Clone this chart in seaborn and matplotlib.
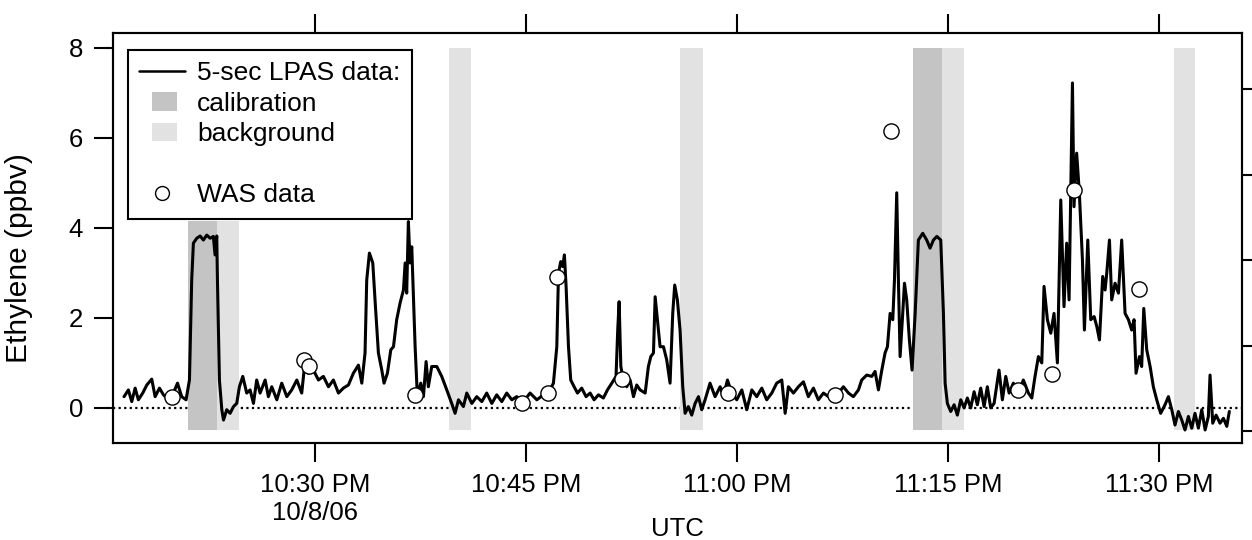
import pandas as pd
import matplotlib
matplotlib.use("Agg")
import matplotlib.pyplot as plt
import seaborn as sns
from matplotlib.lines import Line2D
from matplotlib.patches import Patch, Rectangle
from matplotlib.legend_handler import HandlerPatch

# ---------------------------------------------------------------------------
# data (time = minutes after 22:00 UTC, 10/8/06)
lpas_min = [
    16.42, 16.73, 16.97, 17.21, 17.44, 17.75, 18.04, 18.39, 18.63, 18.94,
    19.22, 19.58, 19.93, 20.22, 20.52, 20.83, 21.07, 21.23, 21.35, 21.59,
    21.83, 22.06, 22.30, 22.54, 22.77, 22.89, 23.01, 23.06, 23.20, 23.37,
    23.49, 23.72, 23.96, 24.20, 24.43, 24.62, 24.86, 25.14, 25.38, 25.62,
    25.85, 26.09, 26.45, 26.68, 26.92, 27.28, 27.63, 27.99, 28.34, 28.70,
    29.05, 29.22, 29.53, 29.88, 30.24, 30.59, 30.95, 31.30, 31.66, 32.01,
    32.37, 32.72, 33.08, 33.32, 33.55, 33.67, 33.86, 34.10, 34.29, 34.50,
    34.74, 34.90, 35.14, 35.38, 35.57, 35.80, 36.04, 36.28, 36.40, 36.51,
    36.63, 36.75, 36.87, 36.99, 37.11, 37.27, 37.51, 37.70, 37.89, 38.05,
    38.29, 38.65, 39.00, 39.36, 39.71, 39.95, 40.19, 40.54, 40.78, 41.14,
    41.49, 41.85, 42.20, 42.56, 42.91, 43.27, 43.62, 43.98, 44.33, 44.81,
    45.28, 45.76, 46.23,
    46.70, 46.94, 47.18, 47.30, 47.46, 47.60, 47.72, 47.84, 48.01, 48.17,
    48.41, 48.65, 48.95, 49.26, 49.55, 49.83, 50.14, 50.49, 50.78, 51.09,
    51.39, 51.51, 51.61, 51.73, 51.92, 52.15, 52.39, 52.63, 52.86, 53.10,
    53.46, 53.69, 53.86, 54.05, 54.17, 54.33, 54.52, 54.76, 54.99, 55.23,
    55.42, 55.56, 55.75, 55.94, 56.13, 56.30, 56.53, 56.77, 57.01, 57.25,
    57.48, 57.72, 58.07, 58.43, 58.79, 59.02, 59.31, 59.61, 59.97, 60.33,
    60.68, 61.04, 61.39, 61.75, 62.10, 62.46, 62.81, 63.17, 63.41, 63.64,
    64.00, 64.35, 64.71, 65.06, 65.42, 65.77, 66.13, 66.49, 66.84, 67.20,
    67.55, 67.91, 68.26, 68.62, 68.85, 69.21, 69.57, 69.80, 70.04, 70.28,
    70.51, 70.68, 70.87, 71.06, 71.18, 71.34, 71.46, 71.58, 71.74, 71.89,
    72.05, 72.24, 72.43, 72.65, 72.88, 73.19, 73.47, 73.71, 73.95, 74.19,
    74.47, 74.66,
    74.78, 74.94, 75.18, 75.42, 75.65, 75.89, 76.13, 76.36, 76.60, 76.84,
    77.07, 77.31, 77.55, 77.78, 78.02, 78.26, 78.61, 78.85, 79.09, 79.33,
    79.63, 79.99, 80.34, 80.70, 80.94, 81.17, 81.41, 81.65, 81.81, 82.05,
    82.29, 82.52, 82.76, 83.00, 83.23, 83.42, 83.59, 83.83, 83.94, 84.13,
    84.32, 84.54, 84.68, 84.92, 85.13, 85.37, 85.56, 85.75, 85.98, 86.15,
    86.27, 86.46, 86.62, 86.86, 87.10, 87.33, 87.57, 87.81, 88.04, 88.21,
    88.35, 88.59, 88.75, 88.90, 89.11, 89.35, 89.58, 89.82, 90.10, 90.41,
    90.65, 90.89, 91.12, 91.36, 91.60, 91.83, 92.07, 92.31, 92.54, 92.78,
    93.02, 93.26, 93.49, 93.61, 93.80, 94.04, 94.32, 94.56, 94.80, 94.98,
]
lpas_ppbv = [
    0.25, 0.40, 0.14, 0.44, 0.18, 0.33, 0.51, 0.64, 0.25, 0.44,
    0.29, 0.18, 0.33, 0.55, 0.25, 0.18, 0.62, 2.84, 3.66, 3.77,
    3.82, 3.73, 3.84, 3.77, 3.81, 3.40, 3.82, 2.84, 0.62, -0.04,
    -0.27, -0.04, -0.12, 0.03, 0.10, 0.47, 0.70, 0.33, 0.40, 0.10,
    0.62, 0.33, 0.62, 0.25, 0.47, 0.18, 0.55, 0.25, 0.40, 0.62,
    0.33, 0.84, 0.77, 0.84, 0.62, 0.70, 0.47, 0.62, 0.33, 0.44,
    0.51, 0.77, 0.95, 0.55, 1.22, 2.84, 3.44, 3.22, 2.25, 1.22,
    0.84, 0.55, 0.77, 1.29, 1.36, 1.96, 2.33, 2.62, 3.22, 2.55,
    4.14, 3.22, 3.58, 2.47, 1.36, 0.25, 0.55, 0.25, 1.03, 0.47,
    0.92, 0.92, 0.70, 0.40, 0.10, -0.12, 0.18, 0.03, 0.33, 0.10,
    0.25, 0.14, 0.33, 0.10, 0.29, 0.14, 0.33, 0.18, 0.25, 0.14,
    0.33, 0.18, 0.29,
    0.40, 0.55, 1.36, 3.00, 3.25, 3.14, 3.40, 2.70, 1.36, 0.62,
    0.47, 0.33, 0.44, 0.25, 0.33, 0.18, 0.29, 0.22, 0.40, 0.55,
    0.70, 1.73, 2.36, 0.92, 0.62, 0.47, 0.62, 0.25, 0.51, 0.40,
    0.33, 0.92, 1.14, 1.22, 2.47, 1.96, 1.36, 1.36, 1.07, 0.55,
    2.10, 2.73, 2.40, 1.73, 0.47, -0.12, 0.03, -0.16, 0.10, 0.25,
    -0.04, 0.18, 0.55, 0.25, 0.47, 0.25, 0.62, 0.33, 0.18, 0.40,
    -0.04, 0.40, 0.25, 0.44, 0.18, 0.33, 0.55, 0.62, -0.12, 0.47,
    0.33, 0.47, 0.58, 0.25, 0.44, 0.18, 0.33, 0.25, 0.40, 0.33,
    0.47, 0.33, 0.25, 0.40, 0.62, 0.73, 0.70, 0.81, 0.40, 0.84,
    1.22, 1.36, 2.10, 1.96, 2.84, 4.78, 2.84, 1.14, 1.96, 2.77,
    2.40, 1.51, 0.84, 2.10, 3.73, 3.88, 3.73, 3.55, 3.73, 3.81,
    3.73, 2.10,
    0.55, 0.10, -0.08, 0.07, -0.16, 0.18, 0.00, 0.22, 0.00, 0.36,
    0.07, 0.44, 0.03, 0.47, 0.00, 0.10, 0.84, 0.18, 0.70, 0.33,
    0.55, 0.33, 0.62, 0.33, 0.22, 0.70, 1.14, 1.00, 2.70, 1.96,
    1.66, 2.10, 1.00, 4.62, 2.25, 3.66, 2.40, 7.22, 4.47, 5.66,
    4.78, 3.29, 1.73, 3.73, 1.96, 2.03, 1.81, 1.51, 2.92, 2.62,
    3.00, 3.73, 2.40, 2.77, 2.55, 3.73, 2.10, 1.96, 1.73, 1.96,
    0.77, 1.14, 0.92, 2.21, 1.29, 0.92, 0.47, 0.18, -0.12, 0.07,
    0.25, -0.04, -0.38, -0.08, -0.27, -0.49, -0.19, -0.45, -0.12, -0.45,
    -0.04, -0.49, -0.19, 0.73, -0.34, -0.16, -0.34, -0.23, -0.41, -0.08,
]

was_min = [19.82, 29.24, 29.57, 37.11, 44.69, 46.54, 47.18, 51.80,
           59.37, 66.96, 70.92, 79.99, 82.36, 83.97, 88.54]
was_ppbv = [0.25, 1.07, 0.93, 0.29, 0.12, 0.33, 2.90, 0.64,
            0.33, 0.29, 6.16, 0.40, 0.76, 4.84, 2.64]

# (start, end, top) of the shaded windows, in minutes / ppbv
calib_windows = [(20.97, 23.03, 4.15), (72.48, 74.56, 8.0)]
backg_windows = [(23.03, 24.58, 4.15), (39.52, 41.07, 8.0), (55.94, 57.56, 8.0),
                 (74.56, 76.10, 8.0), (91.03, 92.57, 8.0)]

tick_min = [30, 45, 60, 75, 90]
tick_labels = ["10:30 PM\n10/8/06", "10:45 PM", "11:00 PM", "11:15 PM", "11:30 PM"]
y_ticks = [0, 2, 4, 6, 8]
right_ticks = [0, 1, 2, 3, 4]

# ---------------------------------------------------------------------------
t0 = pd.Timestamp("2006-10-08 22:00:00")
def to_time(m):
    return t0 + pd.to_timedelta(m, unit="min")

lpas = pd.DataFrame({"time": [to_time(m) for m in lpas_min], "ethylene": lpas_ppbv})
was = pd.DataFrame({"time": [to_time(m) for m in was_min], "ethylene": was_ppbv})

sns.set_theme(style="ticks")
plt.rcParams["font.family"] = ["Liberation Sans", "DejaVu Sans"]
plt.rcParams["text.color"] = "black"
plt.rcParams["axes.labelcolor"] = "black"
plt.rcParams["axes.edgecolor"] = "black"
plt.rcParams["axes.linewidth"] = 1.5

CAL = "#c4c4c4"
BKG = "#e2e2e2"
FS = 18.5

fig = plt.figure(figsize=(12.52, 5.40), dpi=100)
ax = fig.add_axes([0.0903, 0.1796, 0.9017, 0.7593])

ax.axhline(0, color="black", lw=1.6, ls=(0, (1, 1.5)), zorder=1)
for a, b, top in calib_windows:
    ax.fill_between([to_time(a), to_time(b)], -0.5, top, color=CAL, lw=0, zorder=1.5)
for a, b, top in backg_windows:
    ax.fill_between([to_time(a), to_time(b)], -0.5, top, color=BKG, lw=0, zorder=1.5)

sns.lineplot(data=lpas, x="time", y="ethylene", ax=ax, color="black",
             lw=2.2, estimator=None, zorder=2)
sns.scatterplot(data=was, x="time", y="ethylene", ax=ax, s=120,
                facecolor="white", edgecolor="black", linewidth=1.0, zorder=3)

ax.set_xlim(to_time(15.64), to_time(95.88))
ax.set_ylim(-0.78, 8.33)
ax.set_xticks([to_time(m) for m in tick_min])
ax.set_xticklabels(tick_labels)
ax.set_yticks(y_ticks)
ax.tick_params(axis="both", direction="out", length=13.7, width=1.5,
               labelsize=FS, pad=8, colors="black")
ax.tick_params(axis="x", top=True, labeltop=False)

ax.set_xlabel("UTC", fontsize=FS, color="black")
ax.set_ylabel("Ethylene (ppbv)", fontsize=21.5, color="black")
ax.yaxis.set_label_coords(-0.071, 0.451)
ax.xaxis.set_label_coords(0.5, -0.18)

ax2 = ax.twinx()
ax2.set_ylim(-0.14, 4.655)
ax2.set_yticks(right_ticks)
ax2.tick_params(axis="y", direction="out", length=13.7, width=1.5,
                labelright=False, colors="black")
for sp in ax.spines.values():
    sp.set_color("black")
    sp.set_linewidth(1.5)

def narrow_rect(legend, orig_handle, xdescent, ydescent, width, height, fontsize):
    return Rectangle((-xdescent + 0.27 * width, -ydescent), 0.55 * width, height)

h_line = Line2D([], [], color="black", lw=1.8)
h_cal = Patch(facecolor=CAL, edgecolor="none")
h_bkg = Patch(facecolor=BKG, edgecolor="none")
h_blank = Line2D([], [], ls="none")
h_was = Line2D([], [], ls="none", marker="o", ms=10, mfc="white", mec="black", mew=1.0)

leg = ax.legend([h_line, h_cal, h_bkg, h_blank, h_was],
                ["5-sec LPAS data:", "calibration", "background", " ", "WAS data"],
                loc="upper left", bbox_to_anchor=(0.0133, 0.9585), borderaxespad=0,
                fontsize=19, handlelength=1.75, handletextpad=0.45, borderpad=0.42,
                labelspacing=0.25, frameon=True, fancybox=False, framealpha=1,
                edgecolor="black",
                handler_map={Patch: HandlerPatch(patch_func=narrow_rect)})
leg.get_frame().set_linewidth(1.5)
leg.set_zorder(5)
for t in leg.get_texts():
    t.set_color("black")

fig.savefig("out.png", dpi=100)
